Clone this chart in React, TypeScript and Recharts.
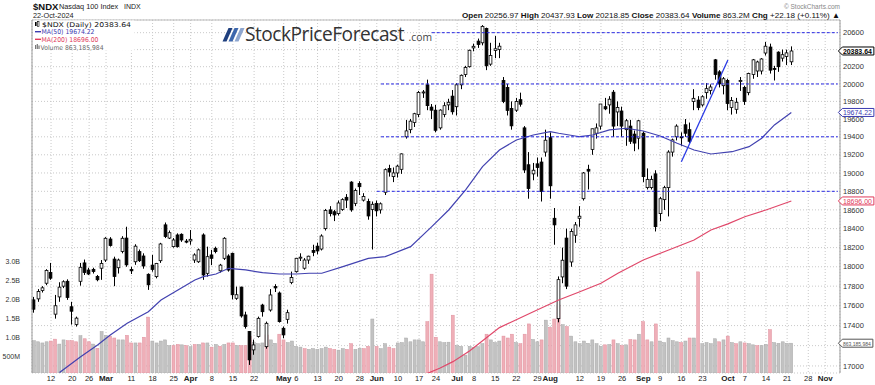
import React from 'react';
import { ComposedChart, Bar, Line, XAxis, YAxis, CartesianGrid, ReferenceLine, ReferenceDot } from 'recharts';

// ---------- categories ----------
const tradingDays: [string, number[]][] = [
  ['Feb', [6, 7, 8, 9, 12, 13, 14, 15, 16, 20, 21, 22, 23, 26, 27, 28, 29]],
  ['Mar', [1, 4, 5, 6, 7, 8, 11, 12, 13, 14, 15, 18, 19, 20, 21, 22, 25, 26, 27, 28]],
  ['Apr', [1, 2, 3, 4, 5, 8, 9, 10, 11, 12, 15, 16, 17, 18, 19, 22, 23, 24, 25, 26, 29, 30]],
  ['May', [1, 2, 3, 6, 7, 8, 9, 10, 13, 14, 15, 16, 17, 20, 21, 22, 23, 24, 28, 29, 30, 31]],
  ['Jun', [3, 4, 5, 6, 7, 10, 11, 12, 13, 14, 17, 18, 20, 21, 24, 25, 26, 27, 28]],
  ['Jul', [1, 2, 3, 5, 8, 9, 10, 11, 12, 15, 16, 17, 18, 19, 22, 23, 24, 25, 26, 29, 30, 31]],
  ['Aug', [1, 2, 5, 6, 7, 8, 9, 12, 13, 14, 15, 16, 19, 20, 21, 22, 23, 26, 27, 28, 29, 30]],
  ['Sep', [3, 4, 5, 6, 9, 10, 11, 12, 13, 16, 17, 18, 19, 20, 23, 24, 25, 26, 27, 30]],
  ['Oct', [1, 2, 3, 4, 7, 8, 9, 10, 11, 14, 15, 16, 17, 18, 21, 22, 23, 24, 25, 28, 29, 30, 31]],
  ['Nov', [1, 4, 5, 6]],
];

// ---------- series values ----------
const opens = [
  17660, 17670, 17755, 17830, 17940, 17515, 17690, 17800, 17850, 17590, 17410, 17850, 18040, 17966, 17973, 17900, 17985,
  18070, 18290, 18080, 17990, 18160, 18300, 17972, 18052, 18158, 18112, 17922, 18017, 17898, 18063, 18440, 18300, 18210, 18333, 18340, 18268,
  18270, 18070, 18052, 18333, 17932, 18123, 18193, 17958, 18088, 18112, 18140, 17676, 17790, 17507, 17340, 17158, 17290, 17607, 17190, 17557, 17797, 17730,
  17373, 17463, 17837, 17949, 18090, 17985, 18070, 18170, 18215, 18185, 18400, 18600, 18580, 18560, 18605, 18735, 18900, 18670, 18885, 18705, 18690, 18605,
  18670, 18600, 18790, 19050, 18960, 19000, 19040, 19400, 19480, 19560, 19650, 19900, 19990, 19735, 19700, 19500, 19650, 19760, 19860,
  19740, 19990, 20110, 20200, 20420, 20500, 20480, 20650, 20230, 20390, 20400, 20040, 19960, 19720, 19700, 19820, 19500, 19090, 18990, 19100, 19120, 19230,
  19390, 18510, 17470, 17895, 18300, 18050, 18330, 18510, 18720, 19040, 19260, 19440, 19520, 19740, 19760, 19905, 19680, 19690, 19480, 19520, 19430, 19385,
  19440, 18840, 18840, 18990, 18560, 18710, 18840, 19230, 19400, 19400, 19535, 19480, 19800, 19815, 19760, 19900, 19925, 20280, 20140, 19980,
  20040, 19730, 19710, 20030, 19960, 19900, 20110, 20150, 20150, 20360, 20430, 20180, 20370, 20300, 20320, 20256.97,
];
const highs = [
  17690, 17770, 17800, 17975, 18040, 17710, 17840, 17860, 17870, 17640, 17490, 18040, 18075, 17990, 17990, 17915, 18070,
  18310, 18310, 18105, 18085, 18320, 18420, 18000, 18235, 18180, 18140, 17932, 18123, 18040, 18250, 18465, 18380, 18300, 18350, 18350, 18290,
  18385, 18140, 18190, 18350, 18210, 18176, 18210, 18030, 18310, 18130, 18147, 17795, 17795, 17540, 17345, 17260, 17490, 17620, 17440, 17770, 17820, 17745,
  17390, 17560, 17950, 18090, 18140, 18090, 18115, 18230, 18250, 18340, 18610, 18640, 18600, 18700, 18725, 18770, 18910, 18830, 18910, 18780, 18720, 18690,
  18700, 18680, 19050, 19090, 19060, 19090, 19215, 19590, 19600, 19670, 19920, 19930, 20050, 19770, 19760, 19710, 19790, 19830, 19930,
  20010, 20110, 20210, 20400, 20470, 20530, 20690, 20660, 20480, 20560, 20480, 20080, 20000, 19800, 19840, 19900, 19520, 19230, 19110, 19170, 19170, 19480,
  19450, 18620, 17900, 18200, 18400, 18400, 18470, 18640, 19010, 19090, 19490, 19550, 19770, 19840, 19860, 19930, 19800, 19740, 19600, 19590, 19470, 19590,
  19460, 19050, 18970, 19030, 18740, 18860, 19250, 19380, 19540, 19450, 19600, 19560, 19940, 19860, 19870, 20010, 19995, 20290, 20160, 20080,
  20060, 19850, 19840, 20080, 19980, 20130, 20290, 20270, 20300, 20490, 20470, 20210, 20380, 20400, 20400, 20437.93,
];
const lows = [
  17530, 17640, 17735, 17810, 17865, 17470, 17640, 17780, 17660, 17410, 17390, 17805, 17915, 17915, 17930, 17850, 17865,
  18050, 18210, 17800, 17930, 18140, 18000, 17925, 18020, 18050, 17980, 17762, 17949, 17880, 18040, 18300, 18290, 18200, 18200, 18260, 18245,
  18230, 18040, 18040, 17865, 17898, 18017, 18140, 17940, 18070, 17950, 17665, 17660, 17480, 17370, 17010, 17110, 17280, 17490, 17170, 17540, 17740, 17430,
  17275, 17420, 17820, 17940, 18060, 17970, 18030, 18110, 18130, 18170, 18380, 18530, 18480, 18540, 18590, 18620, 18580, 18640, 18760, 18690, 18495, 18180,
  18530, 18560, 18760, 18960, 18900, 18950, 18990, 19380, 19440, 19510, 19620, 19840, 19700, 19600, 19450, 19480, 19620, 19700, 19650,
  19640, 19940, 20080, 20190, 20380, 20420, 20450, 20160, 20210, 20300, 20300, 19780, 19640, 19480, 19680, 19740, 19000, 18720, 18920, 18960, 18690, 19180,
  18720, 18230, 17433, 17830, 17770, 18000, 18250, 18420, 18700, 18820, 19200, 19380, 19480, 19700, 19660, 19400, 19520, 19400, 19300, 19320, 19240, 19260,
  18900, 18820, 18820, 18370, 18480, 18600, 18530, 19180, 19360, 19300, 19400, 19330, 19700, 19700, 19740, 19830, 19880, 20050, 19960, 19880,
  19700, 19650, 19660, 19920, 19760, 19870, 20060, 20080, 20110, 20330, 20120, 20040, 20140, 20260, 20220, 20218.85,
];
const closes = [
  17565, 17745, 17783, 17962, 17882, 17600, 17790, 17845, 17685, 17545, 17475, 17995, 17940, 17925, 17950, 17866, 18035,
  18298, 18222, 17900, 18070, 18298, 18020, 17958, 18215, 18063, 18008, 17814, 17973, 18035, 18238, 18316, 18357, 18280, 18210, 18280, 18258,
  18287, 18123, 18176, 17915, 18105, 18088, 18158, 18017, 18298, 17966, 17712, 17712, 17497, 17390, 17060, 17207, 17473, 17540, 17423, 17710, 17782, 17440,
  17307, 17530, 17888, 18088, 18100, 18070, 18110, 18150, 18165, 18322, 18593, 18560, 18546, 18674, 18710, 18705, 18600, 18808, 18850, 18745, 18535, 18660,
  18590, 18665, 19036, 19010, 19000, 19075, 19210, 19466, 19576, 19660, 19903, 19908, 19752, 19700, 19473, 19701, 19751, 19790, 19682,
  19990, 20100, 20190, 20392, 20439, 20460, 20675, 20211, 20331, 20410, 20440, 19799, 19698, 19523, 19800, 19768, 19033, 18830, 19030, 19060, 18797, 19362,
  18860, 18440, 17867, 18068, 17800, 18370, 18440, 18532, 19000, 19020, 19490, 19500, 19770, 19715, 19825, 19520, 19730, 19520, 19580, 19350, 19330, 19580,
  18960, 18930, 18930, 18421, 18720, 18840, 19230, 19365, 19520, 19390, 19440, 19350, 19835, 19730, 19853, 19946, 19965, 20110, 20001, 20060,
  19776, 19810, 19790, 20040, 19800, 20120, 20280, 20255, 20290, 20440, 20160, 20175, 20200, 20340, 20361.46, 20383.64,
];
// volume, millions of shares
const volumesM = [
  930, 900, 870, 900, 920, 970, 840, 950, 930, 930, 900, 1060, 980, 900, 840, 730, 1170,
  1070, 1050, 1000, 950, 950, 1070, 870, 870, 870, 1020, 1550, 920, 870, 920, 950, 800, 800, 830, 820, 800,
  770, 830, 830, 870, 870, 760, 830, 780, 830, 870, 870, 800, 800, 800, 1050, 880, 850, 870, 1080, 950, 860, 1100,
  950, 880, 920, 780, 760, 720, 700, 720, 700, 720, 760, 720, 700, 680, 720, 700, 850, 700, 730, 720, 780, 1500,
  780, 720, 850, 760, 720, 870, 880, 1000, 900, 950, 950, 900, 1430, 2680, 1020, 900, 880, 890, 1600,
  800, 780, 550, 780, 750, 770, 850, 1100, 950, 880, 920, 1050, 1000, 1100, 880, 850, 1100, 1370, 960, 900, 950, 1470,
  1280, 1500, 1870, 1350, 1300, 1050, 900, 850, 920, 860, 950, 850, 780, 820, 830, 950, 850, 800, 820, 960, 950, 1100,
  1430, 950, 900, 1370, 920, 880, 1000, 930, 900, 880, 920, 1000, 1000, 2740, 850, 880, 850, 980, 900, 950,
  1050, 880, 850, 900, 870, 850, 820, 800, 800, 830, 1220, 880, 860, 900, 860, 863.185984,
];
// moving averages (category index, value)
const ma50At = [6, 11, 15, 18, 22, 27, 30, 34, 38, 40, 43, 46, 50, 54, 58, 62, 65, 68, 73, 79, 83, 89, 94, 98, 102, 106, 110, 114, 118, 122, 124, 129, 132, 136, 140, 144, 148, 152, 156, 160, 165, 169, 172, 175, 179];
const ma50Values = [16935, 17091, 17207, 17306, 17423, 17540, 17659, 17761, 17863, 17898, 17925, 17984, 17967, 17939, 17925, 17925, 17933, 17933, 18001, 18088, 18105, 18210, 18421, 18599, 18815, 19069, 19253, 19365, 19420, 19458, 19440, 19401, 19420, 19477, 19496, 19465, 19409, 19328, 19253, 19209, 19234, 19290, 19384, 19533, 19674.22];
const ma200At = [93, 96, 99, 103, 110, 118, 124, 129, 134, 138, 144, 150, 156, 160, 164, 168, 173, 179];
const ma200Values = [16928, 16980, 17042, 17150, 17380, 17540, 17659, 17743, 17829, 17933, 18071, 18175, 18280, 18386, 18450, 18527, 18599, 18696.0];

// ---------- tick labels ----------
const xTickDates = ['Feb 12', 'Feb 20', 'Feb 26', 'Mar 1', 'Mar 11', 'Mar 18', 'Mar 25', 'Apr 1', 'Apr 8', 'Apr 15', 'Apr 22', 'May 1', 'May 6', 'May 13', 'May 20', 'May 28', 'Jun 3', 'Jun 10', 'Jun 17', 'Jun 24', 'Jul 1', 'Jul 8', 'Jul 15', 'Jul 22', 'Jul 29', 'Aug 1', 'Aug 12', 'Aug 19', 'Aug 26', 'Sep 3', 'Sep 9', 'Sep 16', 'Sep 23', 'Oct 1', 'Oct 7', 'Oct 14', 'Oct 21', 'Oct 28', 'Nov 1'];
const xTickLabels = ['12', '20', '26', 'Mar', '11', '18', '25', 'Apr', '8', '15', '22', 'May', '6', '13', '20', '28', 'Jun', '10', '17', '24', 'Jul', '8', '15', '22', '29', 'Aug', '12', '19', '26', 'Sep', '9', '16', '23', 'Oct', '7', '14', '21', '28', 'Nov'];
const priceTicks = [17000, 17200, 17400, 17600, 17800, 18000, 18200, 18400, 18600, 18800, 19000, 19200, 19400, 19600, 19800, 20000, 20200, 20400, 20600];
// price labels that sit fully under the value tags on the right axis
const coveredPriceLabels = [20400, 17200];
const volTicks = [500e6, 1000e6, 1500e6, 2000e6, 2500e6, 3000e6];
const volTickLabels = ['500M', '1.0B', '1.5B', '2.0B', '2.5B', '3.0B'];

// annotation lines
const levelPrices = [20600, 20000, 19400, 18800];
const levelStarts = ['Jun 21', 'Jun 4', 'Jun 4', 'Jun 3'];
const trendDates = ['Sep 16', 'Oct 1'];
const trendPrices = [19124, 20278];

// ---------- build table ----------
const dates: string[] = [];
tradingDays.forEach(([m, days]) => days.forEach((d) => dates.push(`${m} ${d}`)));
const ma50Map = new Map(ma50At.map((k, j) => [k, ma50Values[j]]));
const ma200Map = new Map(ma200At.map((k, j) => [k, ma200Values[j]]));
const n = closes.length;
const data = dates.map((date, i) => {
  const has = i < n;
  return {
    date,
    range: has ? [lows[i], highs[i]] : null,
    o: has ? opens[i] : null,
    h: has ? highs[i] : null,
    l: has ? lows[i] : null,
    c: has ? closes[i] : null,
    vol: has ? volumesM[i] * 1e6 : null,
    down: has && i > 0 ? closes[i] < closes[i - 1] : false,
    ma50: ma50Map.has(i) ? ma50Map.get(i) : null,
    ma200: ma200Map.has(i) ? ma200Map.get(i) : null,
  };
});
const lastDate = dates[dates.length - 1];

const PRICE_DOMAIN = [16931, 20751];
const VOL_DOMAIN = [0.079e9, 9.368e9];
const AXIS_FONT = 'Liberation Sans, Arial, Helvetica, sans-serif';

// ---------- shapes ----------
const CandleShape = (props: any) => {
  const { x, y, width, height, payload } = props;
  if (payload == null || payload.o == null || y == null || height == null) return null;
  const cx = Math.floor(x + width / 2) + 0.5;
  const lh = Math.log(payload.h);
  const ll = Math.log(payload.l);
  const span = lh - ll || 1e-9;
  const yOf = (v: number) => y + (height * (lh - Math.log(v))) / span;
  const yo = yOf(payload.o);
  const yc = yOf(payload.c);
  const top = Math.min(yo, yc);
  const bh = Math.max(Math.abs(yo - yc), 1);
  const up = payload.c >= payload.o;
  return (
    <g>
      <line x1={cx} x2={cx} y1={y} y2={y + height} stroke="#000" strokeWidth={1} />
      <rect x={cx - 1.4} y={top} width={2.8} height={bh} fill={up ? '#fff' : '#000'} stroke="#000" strokeWidth={0.8} />
    </g>
  );
};

const VolumeShape = (props: any) => {
  const { x, y, width, height, payload } = props;
  if (payload == null || payload.vol == null || height == null) return null;
  const cx = x + width / 2;
  const fill = payload.down ? '#EFAFB8' : '#C2C2C2';
  const stroke = payload.down ? '#E0909D' : '#A8A8A8';
  return <rect x={cx - 1.5} y={y} width={3} height={height} fill={fill} stroke={stroke} strokeWidth={0.5} />;
};

const XTick = (props: any) => {
  const { x, payload } = props;
  const k = xTickDates.indexOf(payload.value);
  if (k < 0) return null;
  const label = xTickLabels[k];
  const bold = /^[A-Z]/.test(label);
  return (
    <text x={x} y={381} textAnchor="middle" fontSize={bold ? 8 : 7.5} fontWeight={bold ? 'bold' : 'normal'} fill="#222" fontFamily={AXIS_FONT}>
      {label}
    </text>
  );
};

const PriceTick = (props: any) => {
  const { x, y, payload } = props;
  if (coveredPriceLabels.includes(payload.value)) return null;
  return (
    <text x={x} y={y} dy="0.355em" textAnchor="start" fontSize={7.5} fill="#333" fontFamily={AXIS_FONT}>
      {payload.value}
    </text>
  );
};

const makeTag = (text: string, color: string, bold: boolean, fontSize: number, w: number) => (props: any) => {
  const { cx, cy } = props;
  if (cx == null || cy == null) return null;
  const x0 = cx + 0.5;
  const h = 8;
  return (
    <g>
      <path
        d={`M${x0},${cy} L${x0 + 4},${cy - h / 2} L${x0 + w},${cy - h / 2} L${x0 + w},${cy + h / 2} L${x0 + 4},${cy + h / 2} Z`}
        fill="#fff"
        stroke={color}
        strokeWidth={1}
      />
      <text x={x0 + 4.5} y={cy + 2.6} fontSize={fontSize} fontWeight={bold ? 'bold' : 'normal'} fill={color} fontFamily={AXIS_FONT} textLength={w - 6.5} lengthAdjust="spacingAndGlyphs">
        {text}
      </text>
    </g>
  );
};

export default function App() {
  const last = n - 1;
  const chg = closes[last] - closes[last - 1];
  const pct = (chg / closes[last - 1]) * 100;
  const volFull = Math.round(volumesM[last] * 1e6).toLocaleString('en-US');
  const ma50Last = ma50Values[ma50Values.length - 1];
  const ma200Last = ma200Values[ma200Values.length - 1];

  return (
    <div style={{ position: 'absolute', left: 0, top: 0, width: 875, height: 385, background: '#fff' }}>
      <ComposedChart width={875} height={385} data={data} margin={{ top: 20, right: 0, bottom: 0, left: 0 }}>
        <XAxis
          xAxisId="x"
          dataKey="date"
          type="category"
          ticks={xTickDates}
          interval={0}
          height={12}
          tickLine={false}
          axisLine={false}
          tickSize={0}
          tickMargin={0}
          tick={<XTick />}
        />
        <XAxis xAxisId="v" dataKey="date" type="category" hide />
        <YAxis
          yAxisId="p"
          orientation="right"
          type="number"
          scale="log"
          domain={PRICE_DOMAIN}
          allowDataOverflow
          ticks={priceTicks}
          interval={0}
          width={35}
          tickLine={false}
          axisLine={{ stroke: '#999' }}
          tickSize={3}
          tickMargin={0}
          tick={<PriceTick />}
        />
        <YAxis
          yAxisId="vol"
          orientation="left"
          type="number"
          domain={VOL_DOMAIN}
          allowDataOverflow
          ticks={volTicks}
          interval={0}
          width={32}
          tickLine={false}
          axisLine={{ stroke: '#999' }}
          tickSize={12}
          tickMargin={0}
          tickFormatter={(v: number) => volTickLabels[volTicks.indexOf(v)]}
          tick={{ fontSize: 7, fill: '#333', fontFamily: AXIS_FONT }}
        />
        <CartesianGrid xAxisId="x" yAxisId="p" stroke="#c9c9c9" strokeDasharray="1 2" />
        <ReferenceLine xAxisId="x" yAxisId="p" y={PRICE_DOMAIN[1]} stroke="#bbb" ifOverflow="visible" />
        <Bar xAxisId="v" yAxisId="vol" dataKey="vol" shape={<VolumeShape />} isAnimationActive={false} />
        <Line xAxisId="x" yAxisId="p" dataKey="ma200" stroke="#E0486A" strokeWidth={1.2} dot={false} connectNulls isAnimationActive={false} />
        <Line xAxisId="x" yAxisId="p" dataKey="ma50" stroke="#4242B0" strokeWidth={1.2} dot={false} connectNulls isAnimationActive={false} />
        {levelPrices.map((p, k) => (
          <ReferenceLine
            key={p}
            xAxisId="x"
            yAxisId="p"
            segment={[{ x: levelStarts[k], y: p }, { x: lastDate, y: p }]}
            stroke="#2a2ae6"
            strokeDasharray="3 2"
            strokeWidth={1}
          />
        ))}
        <ReferenceLine
          xAxisId="x"
          yAxisId="p"
          segment={[{ x: trendDates[0], y: trendPrices[0] }, { x: trendDates[1], y: trendPrices[1] }]}
          stroke="#2a3ae6"
          strokeWidth={1.3}
        />
        <Bar xAxisId="x" yAxisId="p" dataKey="range" shape={<CandleShape />} isAnimationActive={false} />
        <ReferenceDot xAxisId="x" yAxisId="p" x={lastDate} y={closes[last]} r={0} shape={makeTag(closes[last].toFixed(2), '#000', true, 7.5, 35.5)} />
        <ReferenceDot xAxisId="x" yAxisId="p" x={lastDate} y={ma50Last} r={0} shape={makeTag(ma50Last.toFixed(2), '#3a3ab0', false, 7.5, 35.5)} />
        <ReferenceDot xAxisId="x" yAxisId="p" x={lastDate} y={ma200Last} r={0} shape={makeTag(ma200Last.toFixed(2), '#e03a5a', false, 7.5, 35.5)} />
        <ReferenceDot xAxisId="v" yAxisId="vol" x={lastDate} y={volumesM[last] * 1e6} r={0} shape={makeTag(volFull, '#555', false, 5.8, 34.5)} />
      </ComposedChart>

      <svg width={875} height={385} style={{ position: 'absolute', left: 0, top: 0, pointerEvents: 'none' }}>
        {/* header */}
        <text x={33} y={9.5} fontSize={9.5} fontWeight="bold" fill="#111" fontFamily={AXIS_FONT}>$NDX</text>
        <text x={59} y={9.3} fontSize={7.3} fill="#222" fontFamily={AXIS_FONT}>Nasdaq 100 Index</text>
        <text x={124} y={9.3} fontSize={7} fill="#222" fontFamily={AXIS_FONT}>INDX</text>
        <text x={33} y={18.3} fontSize={7.3} fill="#222" fontFamily={AXIS_FONT}>22-Oct-2024</text>
        <text x={840} y={8.5} textAnchor="end" fontSize={6.5} fill="#888" fontFamily={AXIS_FONT}>© StockCharts.com</text>
        <text x={840} y={17.8} textAnchor="end" fontSize={8.1} fill="#111" fontFamily={AXIS_FONT}>
          <tspan fontWeight="bold">Open</tspan> {opens[last].toFixed(2)}  <tspan fontWeight="bold">High</tspan> {highs[last].toFixed(2)}  <tspan fontWeight="bold">Low</tspan> {lows[last].toFixed(2)}  <tspan fontWeight="bold">Close</tspan> {closes[last].toFixed(2)}  <tspan fontWeight="bold">Volume</tspan> {volumesM[last].toFixed(1)}M  <tspan fontWeight="bold">Chg</tspan> {(chg >= 0 ? '+' : '') + chg.toFixed(2)} ({(pct >= 0 ? '+' : '') + pct.toFixed(2)}%) ▲
        </text>

        {/* in-chart legend */}
        <rect x={33.5} y={20.5} width={101} height={30} fill="#fff" />
        <g fontFamily="DejaVu Sans, Verdana, sans-serif" fontSize={6.6}>
          <rect x={35} y={22} width={1.6} height={4} fill="#000" />
          <rect x={37.4} y={21.5} width={1.6} height={5} fill="#fff" stroke="#000" strokeWidth={0.6} />
          <text x={42} y={26.8} fill="#111" textLength={89} lengthAdjust="spacingAndGlyphs">$NDX (Daily) {closes[last].toFixed(2)}</text>
          <line x1={35} x2={41} y1={31.7} y2={31.7} stroke="#3a3ab0" strokeWidth={1.4} />
          <text x={41.5} y={34.2} fill="#3a3ab0" textLength={53} lengthAdjust="spacingAndGlyphs">MA(50) {ma50Last.toFixed(2)}</text>
          <line x1={35} x2={41} y1={39.3} y2={39.3} stroke="#e03a5a" strokeWidth={1.4} />
          <text x={41.5} y={41.8} fill="#e03a5a" textLength={57} lengthAdjust="spacingAndGlyphs">MA(200) {ma200Last.toFixed(2)}</text>
          <rect x={35} y={45} width={1.2} height={4} fill="#777" />
          <rect x={36.7} y={44} width={1.2} height={5} fill="#777" />
          <rect x={38.4} y={45.5} width={1.2} height={3.5} fill="#777" />
          <text x={40.5} y={49.5} fill="#666" textLength={63} lengthAdjust="spacingAndGlyphs">Volume {volFull}</text>
        </g>

        {/* logo */}
        <polygon points="222.5,41.5 226.5,41.5 232.5,28 228.5,28" fill="#1f3f7e" />
        <polygon points="228.5,41.5 232.5,41.5 238.5,28 234.5,28" fill="#3d67ad" />
        <polygon points="234.5,41.5 238.5,41.5 244.5,28 240.5,28" fill="#8ea6cf" />
        <text x={245} y={41.3} fontSize={20} fill="#333" fontFamily="Open Sans, Noto Sans, sans-serif" textLength={159} lengthAdjust="spacingAndGlyphs" letterSpacing={-0.5}>
          StockPriceForecast
        </text>
        <text x={408.5} y={41.3} fontSize={11} fill="#444" fontFamily="Open Sans, Noto Sans, sans-serif" textLength={23.5} lengthAdjust="spacingAndGlyphs">
          .com
        </text>
      </svg>
    </div>
  );
}
